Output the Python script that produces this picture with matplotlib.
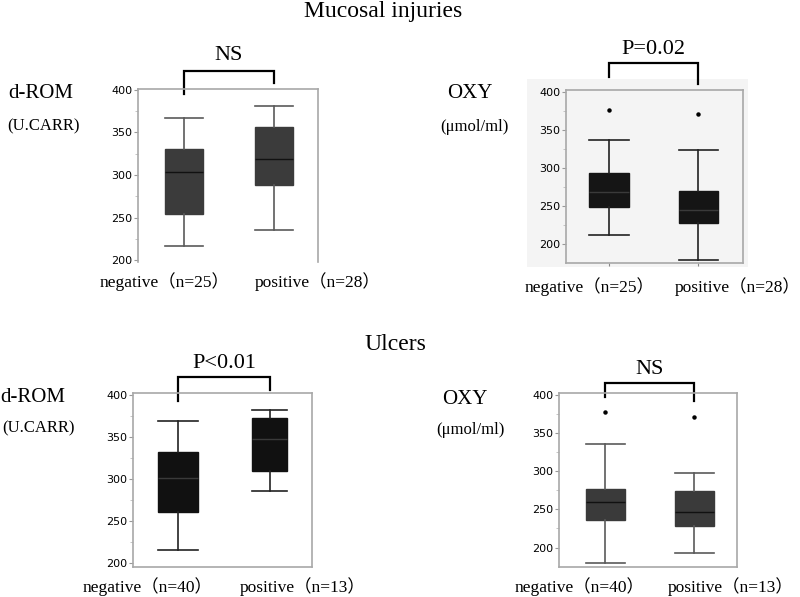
import matplotlib
matplotlib.use("Agg")
import matplotlib.pyplot as plt
from matplotlib.patches import Rectangle

W, H = 800, 597
serif = ['Liberation Serif', 'Noto Sans CJK JP']

# data: (whislo, q1, med, q3, whishi, fliers)
groups = ['negative', 'positive']
mucosal_drom_n = [25, 28]
mucosal_drom = [(217, 254, 304, 331, 367, []), (236, 288, 319, 356, 381, [])]
mucosal_oxy = [(212, 249, 268, 293, 336, [376]), (180, 228, 245, 270, 323, [371])]
ulcer_n = [40, 13]
ulcer_drom = [(215, 261, 301, 332, 369, []), (285, 309, 347, 372, 382, [])]
ulcer_oxy = [(180, 236, 260, 277, 336, [377]), (193, 228, 246, 274, 297, [371])]


def rect(l, t, r, b):
    return [l / W, 1 - b / H, (r - l) / W, (b - t) / H]


def ftext(x, y, s, **kw):
    fig.text(x / W, 1 - y / H, s, **kw)


fig = plt.figure(figsize=(8, 5.97), dpi=100)

panels = [
    # stats, n, box px, ylim, xlim, widths, colours, bottom spine, backdrop
    dict(stats=mucosal_drom, n=mucosal_drom_n, px=(138, 89, 318, 262), ylim=(198, 401),
         xlim=(0.49, 2.49), widths=[0.42, 0.42], fc='#3b3b3b', lc='#5a5a5a', med='#111111',
         bottom=False, bg=None),
    dict(stats=mucosal_oxy, n=mucosal_drom_n, px=(566, 90, 743, 263), ylim=(175.5, 402),
         xlim=(0.52, 2.5), widths=[0.44, 0.44], fc='#151515', lc='#222222', med='#3a3a3a',
         bottom=True, bg='#f4f4f4'),
    dict(stats=ulcer_drom, n=ulcer_n, px=(133, 393, 312, 567), ylim=(195, 402),
         xlim=(0.51, 2.46), widths=[0.43, 0.38], fc='#111111', lc='#222222', med='#3a3a3a',
         bottom=True, bg=None),
    dict(stats=ulcer_oxy, n=ulcer_n, px=(559, 393, 737, 567), ylim=(174.6, 402),
         xlim=(0.48, 2.48), widths=[0.44, 0.44], fc='#3a3a3a', lc='#5a5a5a', med='#111111',
         bottom=True, bg=None),
]

axes = []
for p in panels:
    if p['bg']:
        fig.patches.append(Rectangle((527 / W, 1 - 267 / H), 221 / W, 188 / H,
                                     transform=fig.transFigure, facecolor=p['bg'],
                                     edgecolor='none', zorder=-5))
    ax = fig.add_axes(rect(*p['px']))
    ax.set_zorder(1)
    ax.set_facecolor(p['bg'] if p['bg'] else 'white')
    bstats = []
    for g, s in zip(groups, p['stats']):
        bstats.append(dict(label=g, whislo=s[0], q1=s[1], med=s[2], q3=s[3],
                           whishi=s[4], fliers=s[5]))
    ax.bxp(bstats, positions=[1, 2], widths=p['widths'], capwidths=p['widths'],
           patch_artist=True, showfliers=True,
           boxprops=dict(facecolor=p['fc'], edgecolor=p['fc'], linewidth=1),
           medianprops=dict(color=p['med'], linewidth=1),
           whiskerprops=dict(color=p['lc'], linewidth=1.2),
           capprops=dict(color=p['lc'], linewidth=1.2),
           flierprops=dict(marker='o', markersize=2.2, markerfacecolor='black',
                           markeredgecolor='black'))
    ax.set_xlim(*p['xlim'])
    ax.set_ylim(*p['ylim'])
    ax.set_yticks([200, 250, 300, 350, 400])
    ax.set_yticks([225, 275, 325, 375], minor=True)
    ax.tick_params(axis='y', which='major', length=3, width=0.8, color='#999999',
                   labelsize=8, pad=1)
    ax.tick_params(axis='y', which='minor', length=2, width=0.6, color='#bbbbbb')
    if p['bg']:
        ax.set_xticks([1, 2])
        ax.set_xticklabels(['', ''])
        ax.tick_params(axis='x', length=2, width=0.8, color='#888888')
    else:
        ax.set_xticks([])
    for side in ['left', 'right', 'top', 'bottom']:
        ax.spines[side].set_color('#a8a8a8')
        ax.spines[side].set_linewidth(1.2)
    ax.spines['bottom'].set_visible(p['bottom'])
    axes.append(ax)

# group labels
label_pos = [((100, 282), (255, 282)), ((525, 287), (675, 287)),
             ((83, 587), (240, 587)), ((515, 587), (668, 587))]
for p, pos in zip(panels, label_pos):
    for g, n, (x, y) in zip(groups, p['n'], pos):
        ftext(x, y, f'{g}（n={n}）', family=serif, fontsize=12.5, ha='left', va='center')

# y axis names
for (x1, y1, x2, y2), name, unit in [((8, 93, 7, 126), 'd-ROM', '(U.CARR)'),
                                     ((447, 93, 440, 127), 'OXY', '(μmol/ml)'),
                                     ((0, 398, 2, 428), 'd-ROM', '(U.CARR)'),
                                     ((442, 400, 436, 430), 'OXY', '(μmol/ml)')]:
    ftext(x1, y1, name, family=serif, fontsize=15, ha='left', va='center')
    ftext(x2, y2, unit, family=serif, fontsize=12, ha='left', va='center')

# significance brackets
sig = [('NS', 71, 94, 83, 55), ('P=0.02', 63, 77, 84, 50),
       ('P<0.01', 377, 401, 390, 363), ('NS', 383, 397, 401, 370)]
for ax, p, (txt, top, lb, rb, ty) in zip(axes, panels, sig):
    t, b = p['px'][1], p['px'][3]
    fy = lambda y: (b - y) / (b - t)
    ax.plot([1, 1, 2, 2], [fy(lb), fy(top), fy(top), fy(rb)], color='black', lw=1.6,
            transform=ax.get_xaxis_transform(), clip_on=False, solid_joinstyle='miter')
    ax.text(1.5, fy(ty), txt, transform=ax.get_xaxis_transform(), family=serif,
            fontsize=16, ha='center', va='center')

ftext(383, 12, 'Mucosal injuries', family=serif, fontsize=17, ha='center', va='center')
ftext(395, 344, 'Ulcers', family=serif, fontsize=17, ha='center', va='center')

fig.savefig('out.png', dpi=100)
